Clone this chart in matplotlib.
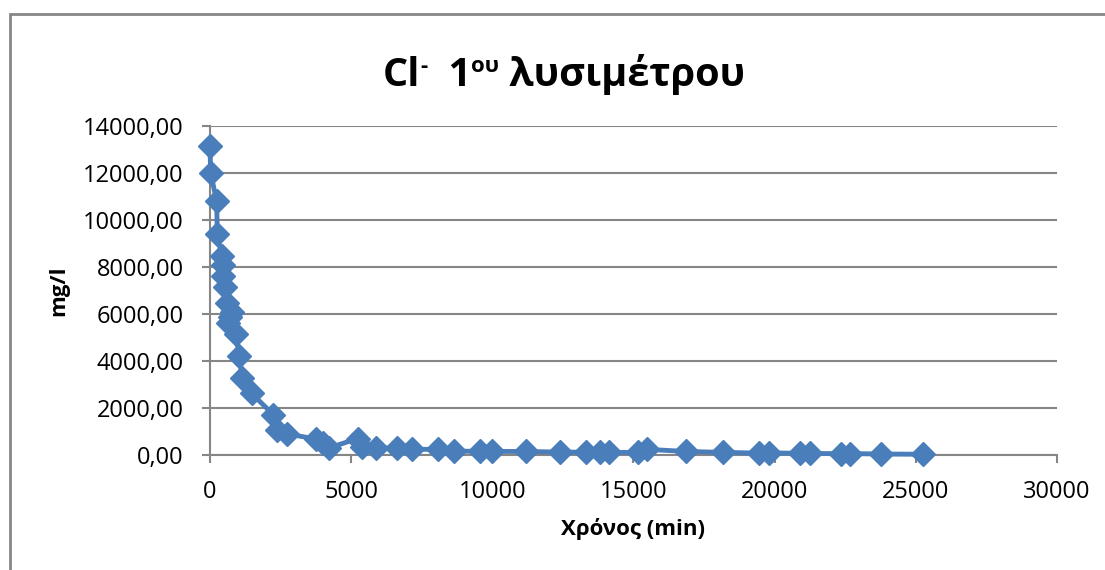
import matplotlib.pyplot as plt
from matplotlib.patches import Rectangle
from matplotlib.ticker import FuncFormatter

plt.rcParams["font.family"] = ["Open Sans", "DejaVu Sans"]

# time (min) and Cl- concentration (mg/l)
t = [0, 25, 237, 260, 413, 450, 470, 530, 590, 650, 708, 767, 920, 1040, 1145,
     1475, 2240, 2380, 2715, 3750, 4010, 4220, 5230, 5370, 5880, 6630, 7170,
     8080, 8640, 9560, 9990, 11190, 12390, 13310, 13800, 14140, 15160, 15480,
     16850, 18170, 19440, 19800, 20890, 21240, 22360, 22680, 23780, 25250]
cl = [13150, 12000, 10800, 9400, 8470, 8080, 7630, 7160, 6480, 5630, 5890, 6100,
      5150, 4210, 3260, 2620, 1720, 1060, 900, 680, 490, 300, 700, 360, 285,
      300, 240, 240, 170, 150, 150, 150, 120, 120, 120, 110, 110, 240,
      150, 110, 80, 90, 70, 70, 50, 60, 40, 30]

blue = "#4A7EBB"
grid = "#868686"

fig = plt.figure(figsize=(11.05, 5.7), dpi=100)
ax = fig.add_axes([0.190, 0.2018, 0.9566 - 0.190, 0.779 - 0.2018])

ax.plot(t, cl, color=blue, lw=3.5, marker="D", markersize=12, zorder=3, clip_on=False)

ax.set_xlim(0, 30000)
ax.set_ylim(0, 14000)
ax.set_xticks(range(0, 30001, 5000))
ax.set_yticks(range(0, 14001, 2000))
ax.yaxis.set_major_formatter(FuncFormatter(lambda v, p: f"{v:.2f}".replace(".", ",")))
ax.grid(axis="y", color=grid, lw=1.5)
ax.set_axisbelow(True)
for s in ["top", "right"]:
    ax.spines[s].set_visible(False)
for s in ["left", "bottom"]:
    ax.spines[s].set_color(grid)
    ax.spines[s].set_linewidth(1.5)
ax.tick_params(axis="both", colors=grid, width=1.5, length=6, labelsize=17,
               labelcolor="black")
ax.tick_params(axis="y", pad=13)
ax.tick_params(axis="x", pad=12)

ax.set_xlabel("Χρόνος (min)", fontsize=16, fontweight="bold", labelpad=10)
ax.set_ylabel("mg/l", fontsize=16, fontweight="bold", labelpad=10)

# title with superscripts
fig.canvas.draw()
r = fig.canvas.get_renderer()
parts = [("Cl", 28.5, 0), ("-", 16, 14), ("  1", 28.5, 0), ("ου", 16, 14), (" λυσιμέτρου", 28.5, 0)]
x0 = 383
for txt, fs, dy in parts:
    tt = fig.text(x0 / 1105, (570 - 86 + dy) / 570, txt, fontsize=fs, fontweight="bold",
                  ha="left", va="baseline")
    bb = tt.get_window_extent(renderer=r)
    x0 = bb.x1

# chart area border (left and top edges visible)
fig.patches.append(Rectangle((10 / 1105, -0.1), 1.2, (570 - 14) / 570 + 0.1,
                             transform=fig.transFigure, fill=False,
                             edgecolor=grid, lw=2))

fig.savefig("out.png", dpi=100)
